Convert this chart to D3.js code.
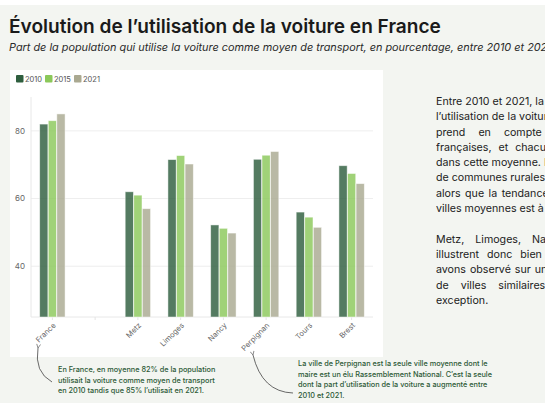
<!DOCTYPE html>
<html>
<head>
<meta charset="utf-8">
<script src="https://cdn.jsdelivr.net/npm/d3@7"></script>
<style>
  body { margin: 0; width: 545px; height: 415px; overflow: hidden; background: #fff; position: relative; }
  svg { position: absolute; left: 0; top: 0; }
  #side { position: absolute; left: 436px; top: 94px; width: 109px; overflow: hidden; font-family: Inter, sans-serif; color: #222; line-height: 15.3px; }
  #side div { white-space: nowrap; }
  #side .gap { height: 15.3px; }
</style>
</head>
<body>
<svg width="545" height="415"></svg>
<div id="side"></div>
<script>
// data
var cities = ["France", " ", "Metz", "Limoges", "Nancy", "Perpignan", "Tours", "Brest"];
var years = ["2010", "2015", "2021"];
var v2010 = [82, null, 62, 71.5, 52.2, 71.6, 56, 69.7];
var v2015 = [83, null, 61, 72.7, 51.2, 72.8, 54.5, 67.4];
var v2021 = [85, null, 57, 70.2, 49.8, 73.9, 51.5, 64.4];
var yTicks = [40, 60, 80];
var colors = ["#2e5e3e", "#8bc85a", "#aaa991"];

var sideLines = [
  "Entre 2010 et 2021, la part de",
  "l\u2019utilisation de la voiture qui",
  "prend en compte tous les",
  "françaises, et chacune compte",
  "dans cette moyenne. La hausse",
  "de communes rurales est forte",
  "alors que la tendance dans les",
  "villes moyennes est à la baisse.",
  "",
  "Metz, Limoges, Nancy, Tours",
  "illustrent donc bien ce que nous",
  "avons observé sur un plus grand",
  "de villes similaires. Une",
  "exception."
];
// extra word spacing of the justified column, per line
var sideSpacing = [0, 0, 10, 4, 0, 0, 1.5, 0, 0, 8, 5, 1, 9, 0];

var noteLeft = [
  "En France, en moyenne 82% de la population",
  "utilisait la voiture comme moyen de transport",
  "en 2010 tandis que 85% l\u2019utilisait en 2021."
];
var noteRight = [
  "La ville de Perpignan est la seule ville moyenne dont le",
  "maire est un élu Rassemblement National. C\u2019est la seule",
  "dont la part d\u2019utilisation de la voiture a augmenté entre",
  "2010 et 2021."
];

var svg = d3.select("svg");
var font = "Inter, sans-serif";

// font size that makes a text as wide as in the original
var fitSize = function (str, weight, style, width) {
  var t = svg.append("text").attr("font-family", font).attr("font-size", 10)
    .attr("font-weight", weight).attr("font-style", style).text(str);
  var w = t.node().getComputedTextLength();
  t.remove();
  return 10 * width / w;
};

// backgrounds
svg.append("rect").attr("x", 0).attr("y", 5).attr("width", 545).attr("height", 398).attr("fill", "#f3f5f1");
svg.append("rect").attr("x", 10).attr("y", 70).attr("width", 373).attr("height", 287).attr("fill", "#fff");

// title
var title = "Évolution de l\u2019utilisation de la voiture en France";
var subtitle = "Part de la population qui utilise la voiture comme moyen de transport, en pourcentage, entre 2010 et 2021";
svg.append("text").attr("x", 9).attr("y", 33)
  .attr("font-family", font).attr("font-weight", 600).attr("font-size", fitSize(title, 600, "normal", 432))
  .attr("fill", "#1a1a1a").text(title);
svg.append("text").attr("x", 9).attr("y", 51)
  .attr("font-family", font).attr("font-style", "italic").attr("font-size", fitSize(subtitle, 400, "italic", 543))
  .attr("fill", "#2a2a2a").text(subtitle);

// scales
var x = d3.scaleBand().domain(cities).range([31, 373]).paddingInner(0.39).paddingOuter(0.195);
var xYear = d3.scaleBand().domain(years).range([0, x.bandwidth()]).padding(0.04);
var y = d3.scaleLinear().domain([25, 90]).range([317, 97]);

// grid
svg.append("g").selectAll("line").data(yTicks).enter().append("line")
  .attr("x1", 31).attr("x2", 373)
  .attr("y1", function (d) { return y(d); }).attr("y2", function (d) { return y(d); })
  .attr("stroke", "#eeeeee").attr("stroke-width", 1);
svg.append("line").attr("x1", 31).attr("x2", 31).attr("y1", y(90)).attr("y2", y(25))
  .attr("stroke", "#e8e8e8");
svg.append("line").attr("x1", 31).attr("x2", 373).attr("y1", y(25)).attr("y2", y(25))
  .attr("stroke", "#e8e8e8");

svg.append("g").selectAll("text").data(yTicks).enter().append("text")
  .attr("x", 25).attr("y", function (d) { return y(d); }).attr("dy", "0.35em")
  .attr("text-anchor", "end").attr("font-family", font).attr("font-size", 8).attr("fill", "#666")
  .text(function (d) { return d; });

// x axis ticks and labels
svg.append("g").selectAll("line").data(cities).enter().append("line")
  .attr("x1", function (d) { return x(d) + x.bandwidth() / 2; })
  .attr("x2", function (d) { return x(d) + x.bandwidth() / 2; })
  .attr("y1", y(25)).attr("y2", y(25) + 3)
  .attr("stroke", "#e4e4e4");
svg.append("g").selectAll("text").data(cities).enter().append("text")
  .attr("transform", function (d) { return "translate(" + (x(d) + x.bandwidth() / 2 + 2) + "," + (y(25) + 7) + ") rotate(-45)"; })
  .attr("text-anchor", "end").attr("dy", "0.35em")
  .attr("font-family", font).attr("font-size", 7.5).attr("fill", "#666")
  .text(function (d) { return d.trim(); });

// bars
var series = [v2010, v2015, v2021];
series.forEach(function (vals, s) {
  var rows = cities.map(function (c, i) { return {city: c, value: vals[i]}; })
    .filter(function (d) { return d.value != null; });
  svg.append("g").selectAll("rect").data(rows).enter().append("rect")
    .attr("x", function (d) { return x(d.city) + xYear(years[s]); })
    .attr("y", function (d) { return y(d.value); })
    .attr("width", xYear.bandwidth())
    .attr("height", function (d) { return y(25) - y(d.value); })
    .attr("fill", colors[s]).attr("fill-opacity", 0.82)
    .attr("stroke", "#fff").attr("stroke-opacity", 0.6).attr("stroke-width", 0.8);
});

// legend
var legend = svg.append("g").selectAll("g").data(years).enter().append("g")
  .attr("transform", function (d, i) { return "translate(" + (16 + i * 29) + ",75)"; });
legend.append("rect").attr("width", 7.5).attr("height", 7.5).attr("rx", 1)
  .attr("fill", function (d, i) { return colors[i]; });
legend.append("text").attr("x", 9).attr("y", 4).attr("dy", "0.35em")
  .attr("font-family", font).attr("font-size", 7.5).attr("fill", "#555")
  .text(function (d) { return d; });

// notes
var addNote = function (lines, x0, y0) {
  svg.append("g").selectAll("text").data(lines).enter().append("text")
    .attr("x", x0).attr("y", function (d, i) { return y0 + i * 10.5; })
    .attr("font-family", font).attr("font-size", 7.3).attr("font-weight", 500).attr("fill", "#2d5a37")
    .text(function (d) { return d; });
};
addNote(noteLeft, 58, 372);
addNote(noteRight, 298, 366);

// arrows
svg.append("defs").append("marker").attr("id", "head")
  .attr("viewBox", "0 0 10 10").attr("refX", 1).attr("refY", 5)
  .attr("markerWidth", 6).attr("markerHeight", 6).attr("orient", "auto")
  .append("path").attr("d", "M9,1 L1,5 L9,9").attr("fill", "none").attr("stroke", "#444").attr("stroke-width", 1.2);
svg.append("path").attr("d", "M52,382 Q34,372 38,348")
  .attr("fill", "none").attr("stroke", "#444").attr("stroke-width", 0.8).attr("marker-end", "url(#head)");
svg.append("path").attr("d", "M293,393 Q262,392 253,355")
  .attr("fill", "none").attr("stroke", "#444").attr("stroke-width", 0.8).attr("marker-end", "url(#head)");

// side text, cut by the page edge as in the original
d3.select("#side").style("font-size", fitSize("Entre 2010 et 2021, la", 400, "normal", 108) + "px");
d3.select("#side").selectAll("div").data(sideLines).enter().append("div")
  .attr("class", function (d) { return d === "" ? "gap" : null; })
  .style("word-spacing", function (d, i) { return sideSpacing[i] + "px"; })
  .text(function (d) { return d; });
</script>
</body>
</html>
